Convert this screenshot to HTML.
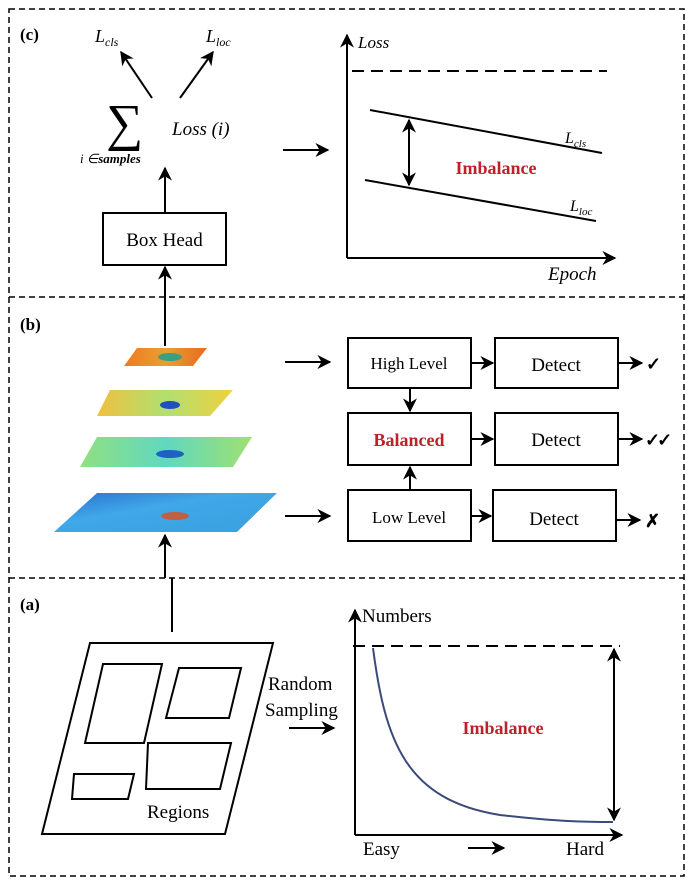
<!DOCTYPE html>
<html><head><meta charset="utf-8"><style>
html,body{margin:0;padding:0;background:#fff}
svg{display:block}
text{font-family:"Liberation Serif",serif;fill:#000}
</style></head><body>
<svg width="696" height="884" viewBox="0 0 696 884" xmlns="http://www.w3.org/2000/svg">
<defs>
<marker id="a" viewBox="0 0 10 10" refX="9" refY="5" markerWidth="7" markerHeight="7" orient="auto-start-reverse"><path d="M0,0 L10,5 L0,10 L3,5 z" fill="#000"/></marker>
<linearGradient id="g1" x1="0" x2="1"><stop offset="0" stop-color="#f07a20"/><stop offset=".5" stop-color="#e8a030"/><stop offset="1" stop-color="#e86a20"/></linearGradient>
<linearGradient id="g2" x1="0" x2="1"><stop offset="0" stop-color="#f0c040"/><stop offset=".5" stop-color="#b0e070"/><stop offset="1" stop-color="#f0d040"/></linearGradient>
<linearGradient id="g3" x1="0" x2="1"><stop offset="0" stop-color="#90e080"/><stop offset=".5" stop-color="#60d8c0"/><stop offset="1" stop-color="#a0e070"/></linearGradient>
<linearGradient id="g4" x1="0" x2="1" y1="0" y2="1"><stop offset="0" stop-color="#2a70d0"/><stop offset=".4" stop-color="#40a8e8"/><stop offset="1" stop-color="#3aa0e0"/></linearGradient>
</defs>
<g fill="none" stroke="#000" stroke-width="1.5" stroke-dasharray="6,4">
<rect x="9" y="9" width="675" height="867"/>
<line x1="9" y1="297" x2="684" y2="297"/>
<line x1="9" y1="578" x2="684" y2="578"/>
</g>
<!-- (c) -->
<text x="20" y="40" font-size="17" font-weight="bold">(c)</text>
<text x="95" y="42" font-size="18" font-style="italic">L<tspan font-size="12" dy="4">cls</tspan></text>
<text x="206" y="42" font-size="18" font-style="italic">L<tspan font-size="12" dy="4">loc</tspan></text>
<g stroke="#000" stroke-width="2" fill="none">
<line x1="152" y1="98" x2="121" y2="52" marker-end="url(#a)"/>
<line x1="180" y1="98" x2="213" y2="52" marker-end="url(#a)"/>
<line x1="165" y1="213" x2="165" y2="168" marker-end="url(#a)"/>
<line x1="165" y1="346" x2="165" y2="267" marker-end="url(#a)"/>
<line x1="283" y1="150" x2="328" y2="150" marker-end="url(#a)"/>
</g>
<text x="106" y="140" font-size="52" font-family="DejaVu Serif, serif">∑</text>
<text x="172" y="135" font-size="19" font-style="italic">Loss (i)</text>
<text x="80" y="163" font-size="13" font-style="italic">i ∈<tspan font-weight="bold">samples</tspan></text>
<rect x="103" y="213" width="123" height="52" fill="#fff" stroke="#000" stroke-width="2"/>
<text x="164.5" y="246" font-size="19" text-anchor="middle">Box Head</text>
<g stroke="#000" stroke-width="2" fill="none">
<line x1="347" y1="258" x2="347" y2="35" marker-end="url(#a)"/>
<line x1="347" y1="258" x2="615" y2="258" marker-end="url(#a)"/>
<line x1="352" y1="71" x2="607" y2="71" stroke-dasharray="12,7"/>
<line x1="370" y1="110" x2="602" y2="153"/>
<line x1="365" y1="180" x2="596" y2="221"/>
<line x1="409" y1="120" x2="409" y2="185" marker-start="url(#a)" marker-end="url(#a)"/>
</g>
<text x="358" y="48" font-size="17" font-style="italic">Loss</text>
<text x="548" y="280" font-size="19" font-style="italic">Epoch</text>
<text x="565" y="143" font-size="16" font-style="italic">L<tspan font-size="11" dy="4">cls</tspan></text>
<text x="570" y="211" font-size="16" font-style="italic">L<tspan font-size="11" dy="4">loc</tspan></text>
<text x="496" y="174" font-size="18" font-weight="bold" style="fill:#c0202a" text-anchor="middle">Imbalance</text>
<!-- (b) -->
<text x="20" y="330" font-size="17" font-weight="bold">(b)</text>
<polygon points="137,348 207,348 193,366 124,366" fill="url(#g1)"/>
<ellipse cx="170" cy="357" rx="12" ry="4" fill="#3aa080"/>
<polygon points="110,390 233,390 210,416 97,416" fill="url(#g2)"/>
<ellipse cx="170" cy="405" rx="10" ry="4" fill="#2050c0"/>
<polygon points="97,437 252,437 233,467 80,467" fill="url(#g3)"/>
<ellipse cx="170" cy="454" rx="14" ry="4" fill="#2060c0"/>
<polygon points="97,493 277,493 237,532 54,532" fill="url(#g4)"/>
<ellipse cx="175" cy="516" rx="14" ry="4" fill="#c06040"/>
<g stroke="#000" stroke-width="2" fill="none">
<line x1="165" y1="578" x2="165" y2="535" marker-end="url(#a)"/>
<line x1="172" y1="578" x2="172" y2="632"/>
<line x1="285" y1="362" x2="330" y2="362" marker-end="url(#a)"/>
<line x1="285" y1="516" x2="330" y2="516" marker-end="url(#a)"/>
<rect x="348" y="338" width="123" height="50"/>
<rect x="495" y="338" width="123" height="50"/>
<rect x="348" y="413" width="123" height="52"/>
<rect x="495" y="413" width="123" height="52"/>
<rect x="348" y="490" width="123" height="51"/>
<rect x="493" y="490" width="123" height="51"/>
<line x1="471" y1="363" x2="493" y2="363" marker-end="url(#a)"/>
<line x1="471" y1="439" x2="493" y2="439" marker-end="url(#a)"/>
<line x1="471" y1="516" x2="491" y2="516" marker-end="url(#a)"/>
<line x1="410" y1="388" x2="410" y2="411" marker-end="url(#a)"/>
<line x1="410" y1="490" x2="410" y2="467" marker-end="url(#a)"/>
<line x1="618" y1="363" x2="642" y2="363" marker-end="url(#a)"/>
<line x1="618" y1="439" x2="642" y2="439" marker-end="url(#a)"/>
<line x1="616" y1="520" x2="640" y2="520" marker-end="url(#a)"/>
</g>
<text x="409" y="369" font-size="17" text-anchor="middle">High Level</text>
<text x="556" y="371" font-size="19" text-anchor="middle">Detect</text>
<text x="409" y="446" font-size="18" font-weight="bold" style="fill:#c0202a" text-anchor="middle">Balanced</text>
<text x="556" y="446" font-size="19" text-anchor="middle">Detect</text>
<text x="409" y="523" font-size="17" text-anchor="middle">Low Level</text>
<text x="554" y="525" font-size="19" text-anchor="middle">Detect</text>
<text x="646" y="370" font-size="18" font-weight="bold" font-family="DejaVu Sans, sans-serif">✓</text>
<text x="645" y="446" font-size="18" font-weight="bold" font-family="DejaVu Sans, sans-serif" letter-spacing="-3">✓✓</text>
<text x="645" y="527" font-size="18" font-weight="bold" font-family="DejaVu Sans, sans-serif">✗</text>
<!-- (a) -->
<text x="20" y="610" font-size="17" font-weight="bold">(a)</text>
<g stroke="#000" stroke-width="2" fill="none">
<polygon points="90,643 273,643 225,834 42,834"/>
<polygon points="103,664 162,664 144,743 85,743"/>
<polygon points="179,668 241,668 229,718 166,718"/>
<polygon points="148,743 231,743 220,789 146,789"/>
<polygon points="74,774 134,774 128,799 72,799"/>
<line x1="289" y1="728" x2="334" y2="728" marker-end="url(#a)"/>
<line x1="355" y1="835" x2="355" y2="610" marker-end="url(#a)"/>
<line x1="355" y1="835" x2="622" y2="835" marker-end="url(#a)"/>
<line x1="353" y1="646" x2="620" y2="646" stroke-dasharray="12,7"/>
<line x1="614" y1="649" x2="614" y2="820" marker-start="url(#a)" marker-end="url(#a)"/>
<line x1="468" y1="848" x2="504" y2="848" marker-end="url(#a)"/>
</g>
<path d="M373,648 C385,740 405,800 500,815 C560,822 590,822 613,822" fill="none" stroke="#3a4a7a" stroke-width="2"/>
<text x="147" y="818" font-size="19">Regions</text>
<text x="268" y="690" font-size="19">Random</text>
<text x="265" y="716" font-size="19">Sampling</text>
<text x="362" y="622" font-size="19">Numbers</text>
<text x="503" y="734" font-size="18" font-weight="bold" style="fill:#c0202a" text-anchor="middle">Imbalance</text>
<text x="363" y="855" font-size="19">Easy</text>
<text x="566" y="855" font-size="19">Hard</text>
</svg>
</body></html>
